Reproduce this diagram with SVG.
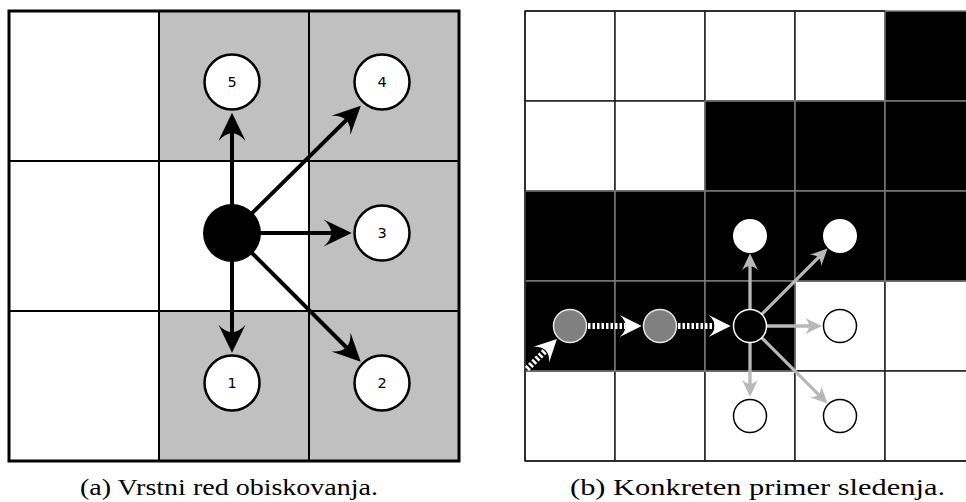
<svg xmlns="http://www.w3.org/2000/svg" width="966" height="502" viewBox="0 0 966 502">
<style>
.gc{fill:#c0c0c0}
.wc{fill:#fff}
.gl{stroke:#000;stroke-width:2;fill:none}
.border{stroke:#000;stroke-width:3;fill:none}
.arrow{stroke:#000;stroke-width:4;fill:none;marker-end:url(#ahBlack)}
.node{fill:#fff;stroke:#000;stroke-width:2.5}
.num{font-family:"DejaVu Sans",sans-serif;font-size:14.5px;fill:#000;text-anchor:middle}
.rw{fill:#fff;stroke:#222;stroke-width:1.5}
.rb{fill:#000;stroke:#7a7a7a;stroke-width:1.5}
.garrow{stroke:#b8b8b8;stroke-width:3.3;fill:none;marker-end:url(#ahGray)}
.darrow{stroke:#fff;stroke-width:6;stroke-dasharray:2.5 2;fill:none;marker-end:url(#ahWhite)}
.cap{font-family:"Liberation Serif","Times New Roman",serif;font-size:24px;fill:#000}
</style>
<defs>
<marker id="ahBlack" markerUnits="userSpaceOnUse" orient="auto" refX="0" refY="0" markerWidth="60" markerHeight="60" overflow="visible">
<path d="M18,0 L-10,-13.5 Q5,0 -10,13.5 Z" fill="#000"/>
</marker>
<marker id="ahGray" markerUnits="userSpaceOnUse" orient="auto" refX="0" refY="0" markerWidth="40" markerHeight="40" overflow="visible">
<path d="M12,0 L-5,-8 Q3,0 -5,8 Z" fill="#b8b8b8"/>
</marker>
<marker id="ahWhite" markerUnits="userSpaceOnUse" orient="auto" refX="0" refY="0" markerWidth="50" markerHeight="50" overflow="visible">
<path d="M16,0 L-6,-11 Q6,0 -6,11 Z" fill="#fff"/>
</marker>
</defs>
<rect width="966" height="502" fill="#fff"/>

<!-- Left grid (a) -->
<g id="gridA">
<rect class="wc" x="9" y="11" width="450" height="450"/>
<rect class="gc" x="159" y="11" width="150" height="150"/>
<rect class="gc" x="309" y="11" width="150" height="150"/>
<rect class="gc" x="309" y="161" width="150" height="150"/>
<rect class="gc" x="159" y="311" width="150" height="150"/>
<rect class="gc" x="309" y="311" width="150" height="150"/>
<path class="gl" d="M159,11 V461 M309,11 V461 M9,161 H459 M9,311 H459"/>
<rect class="border" x="9" y="11" width="450" height="450"/>
</g>

<g id="connectorsA">
<line class="arrow" x1="232" y1="233" x2="232" y2="130.7"/>
<line class="arrow" x1="232" y1="233" x2="348" y2="118.4"/>
<line class="arrow" x1="232" y1="233" x2="333.7" y2="233"/>
<line class="arrow" x1="232" y1="233" x2="348" y2="349"/>
<line class="arrow" x1="232" y1="233" x2="232" y2="334.7"/>
</g>

<g id="nodeCenterA"><circle cx="232" cy="233" r="29" fill="#000"/></g>
<g id="node5"><circle class="node" cx="232" cy="82" r="27.5"/><text class="num" x="232" y="87">5</text></g>
<g id="node4"><circle class="node" cx="382" cy="82" r="27.5"/><text class="num" x="382" y="87">4</text></g>
<g id="node3"><circle class="node" cx="382" cy="233" r="27.5"/><text class="num" x="382" y="238">3</text></g>
<g id="node2"><circle class="node" cx="382" cy="383" r="27.5"/><text class="num" x="382" y="388">2</text></g>
<g id="node1"><circle class="node" cx="232" cy="383" r="27.5"/><text class="num" x="232" y="388">1</text></g>

<!-- Right grid (b) -->
<g id="gridB">
<rect class="rw" x="525" y="11" width="90" height="90"/>
<rect class="rw" x="615" y="11" width="90" height="90"/>
<rect class="rw" x="705" y="11" width="90" height="90"/>
<rect class="rw" x="795" y="11" width="90" height="90"/>
<rect class="rw" x="525" y="101" width="90" height="90"/>
<rect class="rw" x="615" y="101" width="90" height="90"/>
<rect class="rw" x="795" y="281" width="90" height="90"/>
<rect class="rw" x="885" y="281" width="90" height="90"/>
<rect class="rw" x="525" y="371" width="90" height="90"/>
<rect class="rw" x="615" y="371" width="90" height="90"/>
<rect class="rw" x="705" y="371" width="90" height="90"/>
<rect class="rw" x="795" y="371" width="90" height="90"/>
<rect class="rw" x="885" y="371" width="90" height="90"/>
<rect class="rb" x="885" y="11" width="90" height="90"/>
<rect class="rb" x="705" y="101" width="90" height="90"/>
<rect class="rb" x="795" y="101" width="90" height="90"/>
<rect class="rb" x="885" y="101" width="90" height="90"/>
<rect class="rb" x="525" y="191" width="90" height="90"/>
<rect class="rb" x="615" y="191" width="90" height="90"/>
<rect class="rb" x="705" y="191" width="90" height="90"/>
<rect class="rb" x="795" y="191" width="90" height="90"/>
<rect class="rb" x="885" y="191" width="90" height="90"/>
<rect class="rb" x="525" y="281" width="90" height="90"/>
<rect class="rb" x="615" y="281" width="90" height="90"/>
<rect class="rb" x="705" y="281" width="90" height="90"/>
<path d="M525,11 V461 M525,461 H966 M525,11 H885" stroke="#222" stroke-width="1.5" fill="none"/>
</g>

<g id="connectorsB">
<line class="garrow" x1="750" y1="326" x2="750" y2="265.3"/>
<line class="garrow" x1="750" y1="326" x2="819.1" y2="256.9"/>
<line class="garrow" x1="750" y1="326" x2="810" y2="326"/>
<line class="garrow" x1="750" y1="326" x2="750" y2="384.7"/>
<line class="garrow" x1="750" y1="326" x2="819.1" y2="395.1"/>
<line class="darrow" x1="527" y1="369" x2="545.6" y2="350.4"/>
<line class="darrow" x1="588" y1="326" x2="625.7" y2="326"/>
<line class="darrow" x1="678" y1="326" x2="714.7" y2="326"/>
</g>

<g id="visited1"><circle cx="570" cy="326" r="16.5" fill="#808080" stroke="#e6e6e6" stroke-width="1.5"/></g>
<g id="visited2"><circle cx="660" cy="326" r="16.5" fill="#808080" stroke="#e6e6e6" stroke-width="1.5"/></g>
<g id="current"><circle cx="750" cy="326" r="16.5" fill="#000" stroke="#fff" stroke-width="1.5"/></g>
<g id="candUp"><circle cx="750" cy="236" r="17" fill="#fff"/></g>
<g id="candUpRight"><circle cx="840" cy="236" r="17" fill="#fff"/></g>
<g id="candRight"><circle cx="840" cy="326" r="16.5" fill="#fff" stroke="#000" stroke-width="1.5"/></g>
<g id="candDown"><circle cx="750" cy="416" r="16.5" fill="#fff" stroke="#000" stroke-width="1.5"/></g>
<g id="candDownRight"><circle cx="840" cy="416" r="16.5" fill="#fff" stroke="#000" stroke-width="1.5"/></g>

<text class="cap" x="80" y="495" textLength="298" lengthAdjust="spacingAndGlyphs">(a) Vrstni red obiskovanja.</text>
<text class="cap" x="570" y="495" textLength="375" lengthAdjust="spacingAndGlyphs">(b) Konkreten primer sledenja.</text>
</svg>
